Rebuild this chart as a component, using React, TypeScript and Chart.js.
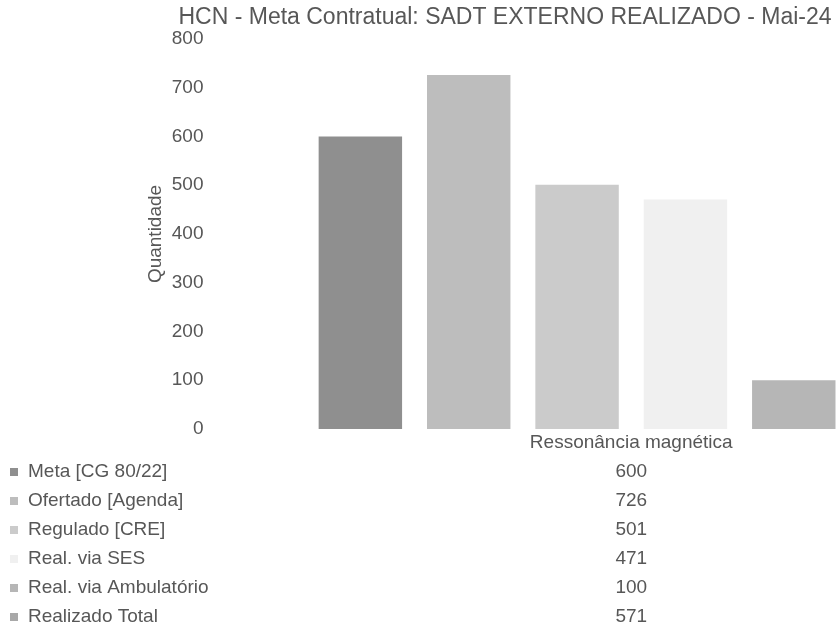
import React, { useEffect, useRef } from "react";
import { Chart, registerables } from "chart.js";

Chart.register(...registerables);

const TITLE = "HCN - Meta Contratual: SADT EXTERNO REALIZADO - Mai-24";
const Y_TITLE = "Quantidade";
const categories = ["Ressonância magnética"];
const seriesLabels = [
  "Meta [CG 80/22]",
  "Ofertado [Agenda]",
  "Regulado [CRE]",
  "Real. via SES",
  "Real. via Ambulatório",
  "Realizado Total",
];
const seriesValues = [600, 726, 501, 471, 100, 571];
const seriesColors = ["#8f8f8f", "#bdbdbd", "#cbcbcb", "#f0f0f0", "#b6b6b6", "#a8a8a8"];
const yMin = 0;
const yMax = 800;
const yStep = 100;

const FONT = "'Liberation Sans', Arial, sans-serif";
const TEXT = "#575757";

const titlePlugin = {
  id: "customTitle",
  afterDraw(chart: any) {
    const ctx = chart.ctx;
    ctx.save();
    ctx.font = `23px ${FONT}`;
    ctx.fillStyle = TEXT;
    ctx.textAlign = "center";
    ctx.textBaseline = "middle";
    ctx.fillText(TITLE, 505, 18);
    ctx.restore();
  },
};

const tablePlugin = {
  id: "dataTable",
  afterDraw(chart: any) {
    const ctx = chart.ctx;
    const xScale = chart.scales.x;
    const area = chart.chartArea;
    const vx = xScale.getPixelForValue(0);
    const labelY = area.bottom + 14;
    const top = labelY + 29;
    const step = 29;
    ctx.save();
    ctx.font = `19px ${FONT}`;
    ctx.textBaseline = "middle";
    ctx.fillStyle = TEXT;
    ctx.textAlign = "center";
    ctx.fillText(String(chart.data.labels[0]), vx, labelY);
    chart.data.datasets.forEach((ds: any, i: number) => {
      const y = top + i * step;
      ctx.fillStyle = ds.backgroundColor;
      ctx.fillRect(10, y - 4, 8, 8);
      ctx.fillStyle = TEXT;
      ctx.textAlign = "left";
      ctx.fillText(ds.label, 28, y);
      ctx.textAlign = "center";
      ctx.fillText(String(ds.data[0]), vx, y);
    });
    ctx.restore();
  },
};

export default function App() {
  const ref = useRef<HTMLCanvasElement | null>(null);

  useEffect(() => {
    if (!ref.current) return;
    const chart = new Chart(ref.current, {
      type: "bar",
      data: {
        labels: categories,
        datasets: seriesLabels.map((label, i) => ({
          label,
          data: [seriesValues[i]],
          backgroundColor: seriesColors[i],
          borderWidth: 0,
          categoryPercentage: 0.78,
          barPercentage: 0.77,
        })),
      },
      options: {
        animation: false,
        responsive: false,
        maintainAspectRatio: false,
        layout: { padding: { top: 39, left: 144, right: 2, bottom: 197 } },
        plugins: {
          legend: { display: false },
          title: { display: false },
          tooltip: { enabled: false },
        },
        scales: {
          x: {
            grid: { display: false },
            border: { display: false },
            ticks: { display: false },
          },
          y: {
            min: yMin,
            max: yMax,
            grid: { display: false },
            border: { display: false },
            ticks: { stepSize: yStep, color: TEXT, font: { family: FONT, size: 19 }, padding: 3 },
            title: { display: true, text: Y_TITLE, color: TEXT, font: { family: FONT, size: 19 }, padding: { top: 0, bottom: 2 } },
          },
        },
      },
      plugins: [titlePlugin, tablePlugin],
    });
    return () => chart.destroy();
  }, []);

  return (
    <div style={{ position: "fixed", left: 0, top: 0, width: 836, height: 634, overflow: "hidden", background: "#fff" }}>
      <canvas ref={ref} width={1050} height={634} style={{ display: "block", width: 1050, height: 634 }} />
    </div>
  );
}
